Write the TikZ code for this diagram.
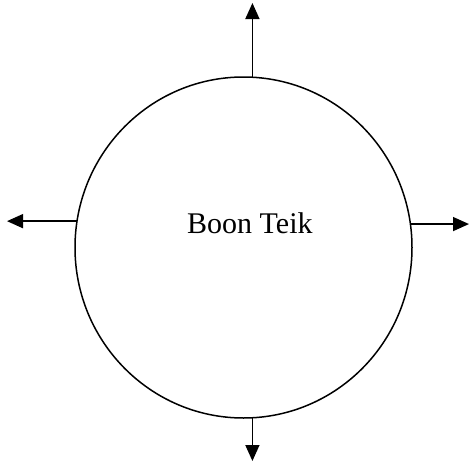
\documentclass[tikz,border=0pt]{standalone}
\usepackage{fontspec}
\setmainfont{Liberation Serif}
\usetikzlibrary{shapes.geometric,arrows.meta}
\begin{document}
\begin{tikzpicture}[x=1pt,y=-1pt,
  conn/.style={line width=1.5pt,-{Triangle[length=16pt,width=14pt]}}]
\useasboundingbox (0,0) rectangle (469,463);
\node[ellipse,draw,line width=1.5pt,minimum width=337pt,minimum height=341pt,inner sep=0pt,outer sep=0pt] (e) at (243.5,247.5) {};
\node[font=\fontsize{30}{36}\selectfont,anchor=base west,inner sep=0pt] (t) at (187,233) {Boon Teik};
\coordinate (topend) at (251,3);
\coordinate (botend) at (251,461);
\coordinate (leftend) at (7,221);
\coordinate (rightend) at (469,222);
\draw[conn] (e.87.5) -- (e.87.5 |- topend);
\draw[conn] (e.-87.5) -- (e.-87.5 |- botend);
\draw[conn] (e.171) -- (e.171 -| leftend);
\draw[conn] (e.8.7) -- (e.8.7 -| rightend);
\end{tikzpicture}
\end{document}
